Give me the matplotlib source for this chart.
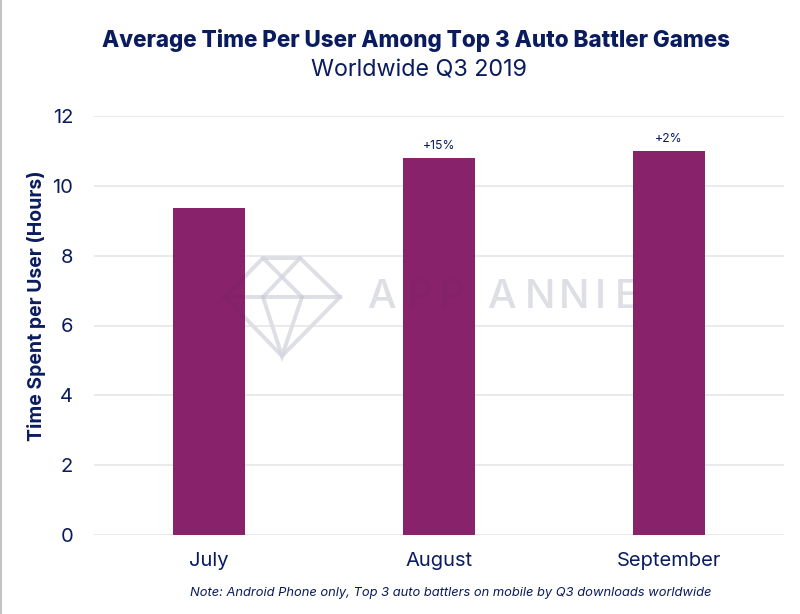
import matplotlib
matplotlib.use("Agg")
import matplotlib.pyplot as plt
from matplotlib.lines import Line2D

months = ["July", "August", "September"]
hours = [9.37, 10.8, 11.0]
changes = ["", "+15%", "+2%"]
yticks = [0, 2, 4, 6, 8, 10, 12]

navy = "#0a1c5e"
purple = "#88236b"

plt.rcParams["font.family"] = ["Inter", "DejaVu Sans"]

W, H = 800, 614
fig = plt.figure(figsize=(W / 100, H / 100), dpi=100)
ax = fig.add_axes([94 / W, 1 - 535 / H, 690 / W, 419 / H])
ax.patch.set_visible(False)

ax.bar(range(3), hours, width=0.313, color=purple, zorder=2)
ax.set_xlim(-0.5, 2.5)
ax.set_ylim(0, 12)
ax.set_yticks(yticks)
ax.set_xticks(range(3))
ax.set_xticklabels(months)
ax.tick_params(axis="both", length=0, colors=navy, labelsize=14.5)
ax.tick_params(axis="x", pad=12)
ax.tick_params(axis="y", pad=15)
ax.grid(axis="y", color="#e8e8ea", lw=1.3, zorder=0)
ax.set_axisbelow(True)
for s in ax.spines.values():
    s.set_visible(False)

for i in range(3):
    if changes[i]:
        ax.text(i, hours[i] + 0.16, changes[i], ha="center", va="bottom", fontsize=8.8, color=navy)

fig.text(37 / W, 1 - 306 / H, "Time Spent per User (Hours)", rotation=90, ha="center", va="center",
         fontsize=14, fontweight="bold", color=navy)
fig.text(416 / W, 1 - 41 / H, "Average Time Per User Among Top 3 Auto Battler Games", ha="center", va="center",
         fontsize=16.2, fontweight="heavy", color=navy)
fig.text(419 / W, 1 - 71 / H, "Worldwide Q3 2019", ha="center", va="center", fontsize=16.8, color=navy)
fig.text(450.5 / W, 1 - 593 / H, "Note: Android Phone only, Top 3 auto battlers on mobile by Q3 downloads worldwide",
         ha="center", va="center", fontsize=9.3, style="italic", color=navy)

# watermark, pixel coords. drawn under the bars, then very faint on top of them
letters = "APPANNIE"
letter_x = [382, 420, 452, 502, 540, 574, 600, 627]
diamond = [
    ([225, 263, 300, 340, 282, 225], [297, 258, 258, 297, 356, 297]),
    ([225, 340], [297, 297]),
    ([263, 302], [258, 297]),
    ([300, 263], [258, 297]),
    ([263, 282, 302], [297, 356, 297]),
]
for col, alpha, z in [("#e5e7ec", 1, -1), ("#1a1f4a", 0.04, 5)]:
    for xs, ys in diamond:
        fig.add_artist(Line2D([x / W for x in xs], [1 - y / H for y in ys], color=col, lw=2.8,
                              alpha=alpha, zorder=z, solid_joinstyle="miter"))
    for c, x in zip(letters, letter_x):
        fig.text(x / W, 1 - 298 / H, c, ha="center", va="center", fontsize=29, color=col, alpha=alpha,
                 zorder=z, fontweight="medium")

# thin scan border on the left edge
fig.add_artist(Line2D([0.5 / W, 0.5 / W], [0, 1], color="#c4c4c4", lw=1.5))

fig.savefig("out.png", dpi=100, facecolor="white")
